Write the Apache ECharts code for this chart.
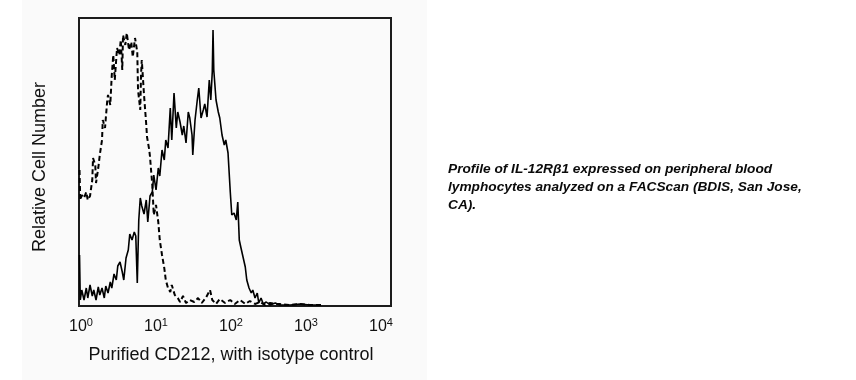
<!DOCTYPE html>
<html>
<head>
<meta charset="utf-8">
<script src="https://cdn.jsdelivr.net/npm/echarts@6/dist/echarts.min.js"></script>
<style>
  html, body { margin: 0; padding: 0; background: #ffffff; }
  #panel { position: absolute; left: 22px; top: 0; width: 405px; height: 380px; background: #fafafa; }
  #chart { position: absolute; left: 0; top: 0; width: 856px; height: 380px; }
</style>
</head>
<body>
<div id="panel"></div>
<div id="chart"></div>
<script>
// Fluorescence intensity in log decades (10^x), relative cell counts
const tickExponents = [0, 1, 2, 3, 4];

// Purified CD212 (solid)
const cd212Dec = [-0.02,-0.01,0.01,0.04,0.07,0.09,0.12,0.15,0.17,0.20,0.23,0.25,0.28,0.31,0.33,0.36,0.39,0.41,0.44,0.47,
  0.49,0.52,0.55,0.57,0.60,0.63,0.65,0.68,0.71,0.73,0.75,0.77,0.79,0.81,0.84,0.87,0.89,0.92,0.95,0.97,
  1.00,1.03,1.05,1.08,1.11,1.13,1.16,1.19,1.21,1.24,1.27,1.29,1.32,1.35,1.37,1.40,1.43,1.45,1.48,1.49,
  1.52,1.55,1.57,1.60,1.63,1.65,1.68,1.71,1.73,1.75,1.76,1.77,1.80,1.83,1.85,1.88,1.91,1.93,1.96,1.99,
  2.01,2.04,2.07,2.09,2.11,2.13,2.16,2.19,2.21,2.24,2.27,2.29,2.32,2.35,2.37,2.40,2.43,2.47,2.52,2.59,
  2.65,2.79,2.92,3.05,3.19];
const cd212Count = [51,6,16,6,18,8,21,10,16,6,19,11,18,8,20,13,24,18,32,26,
  40,44,34,26,48,56,72,66,74,70,23,86,108,100,92,106,84,110,114,131,
  116,138,130,156,146,166,158,198,166,213,178,194,184,171,180,163,194,188,171,151,
  186,206,218,188,196,202,189,226,206,234,276,236,206,194,188,171,161,166,153,114,
  91,93,86,104,66,59,49,39,26,18,13,16,8,13,3,8,2,4,1,3,
  1,1,2,1,1];

// Isotype control (dashed)
const isoDec = [-0.02,-0.01,0.01,0.04,0.07,0.09,0.12,0.15,0.16,0.19,0.20,0.23,0.25,0.28,0.29,0.32,0.35,0.36,0.39,0.41,
  0.43,0.45,0.48,0.51,0.53,0.55,0.56,0.59,0.61,0.64,0.67,0.69,0.72,0.75,0.76,0.79,0.80,0.81,0.84,0.87,
  0.88,0.91,0.92,0.95,0.97,1.00,1.03,1.05,1.08,1.11,1.13,1.16,1.19,1.21,1.25,1.29,1.32,1.36,1.40,1.45,
  1.51,1.56,1.61,1.67,1.72,1.75,1.80,1.85,1.92,1.99,2.05,2.12,2.19,2.25,2.32,2.39,2.45,2.52,2.59,2.65,
  2.79,2.92,3.05,3.21];
const isoCount = [136,106,111,108,114,106,110,126,148,141,123,138,151,166,186,178,206,211,201,231,
  251,226,258,251,266,236,271,261,273,256,264,249,268,254,216,196,231,246,211,181,
  169,156,149,121,91,101,84,66,51,38,26,18,14,21,11,8,4,10,3,6,
  4,8,3,9,16,6,2,7,3,6,2,6,2,5,2,4,1,3,2,2,
  1,2,1,1];

const xAxisTitle = 'Purified CD212, with isotype control';
const yAxisTitle = 'Relative Cell Number';
const caption = 'Profile of IL-12R\u03b21 expressed on peripheral blood\nlymphocytes analyzed on a FACScan (BDIS, San Jose,\nCA).';

const pairs = (xs, ys) => xs.map((x, i) => [x, ys[i]]);
const FONT = '"Liberation Sans", Arial, Helvetica, sans-serif';

const chart = echarts.init(document.getElementById('chart'), null, { renderer: 'canvas' });
chart.setOption({
  backgroundColor: 'transparent',
  animation: false,
  grid: {
    left: 79, top: 18, right: 465, bottom: 74,
    show: true, borderColor: '#1c1c1c', borderWidth: 2, backgroundColor: 'transparent'
  },
  xAxis: {
    type: 'value',
    min: -0.027, max: 4.133,
    axisLine: { show: false },
    axisTick: { show: false },
    splitLine: { show: false },
    axisLabel: {
      customValues: tickExponents,
      margin: 11,
      formatter: v => '{b|10}{s|' + v + '}',
      rich: {
        b: { fontSize: 16, lineHeight: 20, fontFamily: FONT, color: '#111111' },
        s: { fontSize: 11, lineHeight: 10, verticalAlign: 'top', fontFamily: FONT, color: '#111111' }
      }
    },
    name: xAxisTitle,
    nameLocation: 'middle',
    nameGap: 40,
    nameTextStyle: { fontSize: 18, fontFamily: FONT, color: '#111111', padding: [0, 8, 0, 0] }
  },
  yAxis: {
    type: 'value',
    min: 0, max: 288,
    axisLine: { show: false },
    axisTick: { show: false },
    axisLabel: { show: false },
    splitLine: { show: false },
    name: yAxisTitle,
    nameLocation: 'middle',
    nameGap: 30,
    nameTextStyle: { fontSize: 18, fontFamily: FONT, color: '#111111', padding: [0, 10, 0, 0] }
  },
  graphic: [{
    type: 'text',
    left: 448, top: 160,
    style: {
      text: caption,
      fontSize: 13.7, fontWeight: 'bold', fontStyle: 'italic',
      fontFamily: FONT, fill: '#0a0a0a', lineHeight: 18
    }
  }],
  series: [
    {
      type: 'line', name: 'Isotype control',
      data: pairs(isoDec, isoCount),
      showSymbol: false, symbol: 'none',
      lineStyle: { color: '#000', width: 2, type: [5, 3] },
      z: 2
    },
    {
      type: 'line', name: 'Purified CD212',
      data: pairs(cd212Dec, cd212Count),
      showSymbol: false, symbol: 'none',
      lineStyle: { color: '#000', width: 1.6 },
      z: 3
    }
  ]
});
</script>
</body>
</html>
